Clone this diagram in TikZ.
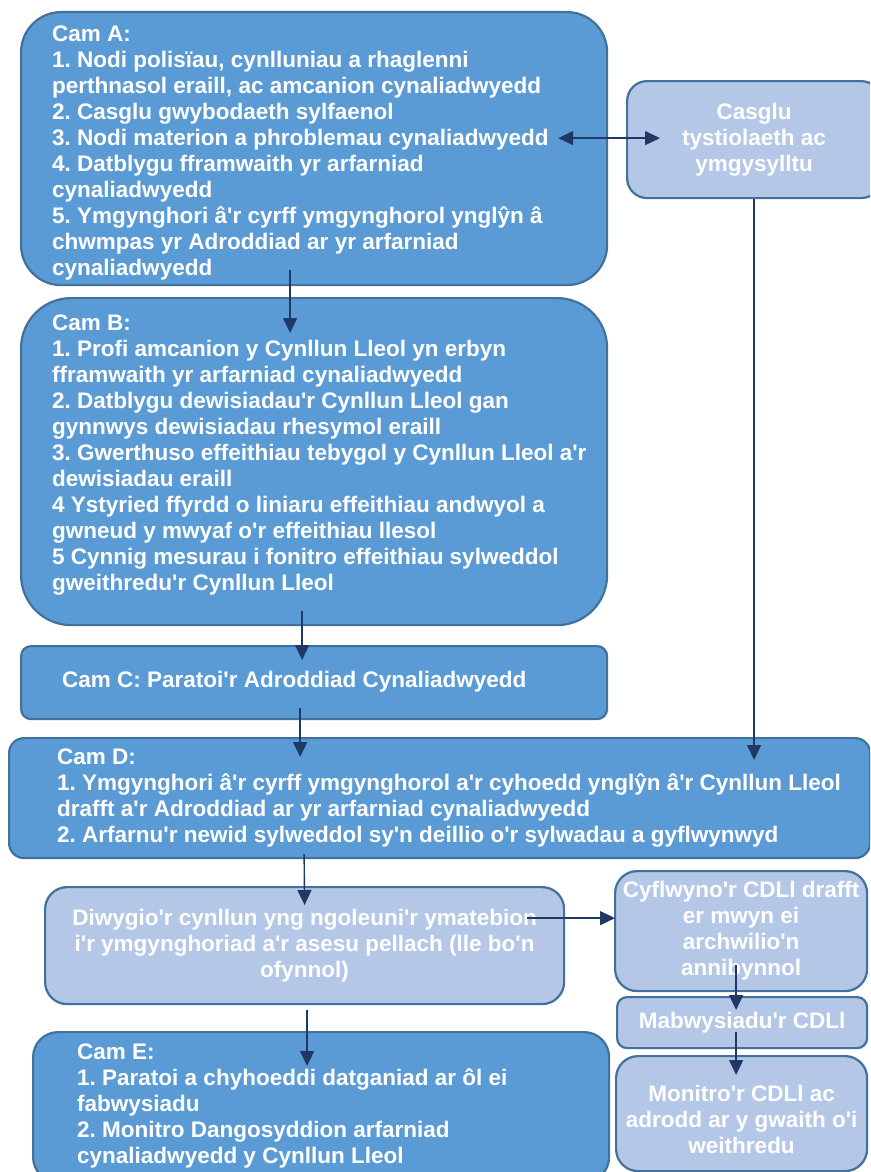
\documentclass[tikz,border=0pt]{standalone}
\usepackage{fontspec}
\setmainfont{Liberation Sans}[Ligatures=TeXOff]
\usetikzlibrary{arrows.meta,calc}
\definecolor{dfill}{HTML}{5B9BD5}
\definecolor{lfill}{HTML}{B4C7E7}
\definecolor{bord}{HTML}{41719C}
\definecolor{arrc}{HTML}{203864}
\frenchspacing
\begin{document}
\begin{tikzpicture}[x=1pt,y=1pt,
 box/.style={draw=bord, line width=2.2pt, inner sep=0pt, anchor=north west},
 dbox/.style={box, fill=dfill},
 lbox/.style={box, fill=lfill, text=white, align=center, font=\bfseries\fontsize{22.5}{26}\selectfont},
 txt/.style={anchor=west, inner sep=0pt, align=left, text=white, font=\bfseries\fontsize{22.5}{26}\selectfont},
 arr/.style={draw=arrc, line width=1.4pt, -{Triangle[length=15pt,width=14pt]}},
 arrboth/.style={draw=arrc, line width=1.4pt, {Triangle[length=15pt,width=14pt]}-{Triangle[length=15pt,width=14pt]}},
]
\useasboundingbox (0,0) rectangle (870,-1172);
\clip (0,0) rectangle (870,-1172);
\fill[white] (0,0) rectangle (870,-1172);

% boxes
\node[dbox, minimum width=586pt, minimum height=273pt, rounded corners=40pt] (A) at (20,-11) {};
\node[lbox, minimum width=254pt, minimum height=117pt, rounded corners=20pt] (Cas) at (626,-80) {Casglu\\tystiolaeth ac\\ymgysylltu};
\node[dbox, minimum width=586pt, minimum height=327pt, rounded corners=50pt] (B) at (20,-297) {};
\node[dbox, minimum width=586pt, minimum height=73pt, rounded corners=10pt] (C) at (20,-645) {};
\node[dbox, minimum width=861pt, minimum height=120pt, rounded corners=15pt] (D) at (8,-737) {};
\node[lbox, minimum width=519pt, minimum height=117pt, rounded corners=22pt] (Diw) at (44,-886) {Diwygio'r cynllun yng ngoleuni'r ymatebion\\i'r ymgynghoriad a'r asesu pellach (lle bo'n\\ofynnol)};
\node[lbox, minimum width=252pt, minimum height=120pt, rounded corners=22pt] (Cyf) at (614,-870) {Cyflwyno'r CDLl drafft\\er mwyn ei\\archwilio'n\\annibynnol};
\node[lbox, minimum width=250pt, minimum height=51pt, rounded corners=10pt] (Mab) at (616,-996) {Mabwysiadu'r CDLl};
\node[lbox, minimum width=251pt, minimum height=115pt, rounded corners=22pt] (Mon) at (615,-1055) {};
\node[dbox, minimum width=576pt, minimum height=150pt, rounded corners=25pt] (E) at (32,-1031) {};

% texts
\node[txt] (At) at ($(A.west)+(32,-4.5)$) {Cam A:\\1. Nodi polisïau, cynlluniau a rhaglenni\\perthnasol eraill, ac amcanion cynaliadwyedd\\2. Casglu gwybodaeth sylfaenol\\3. Nodi materion a phroblemau cynaliadwyedd\\4. Datblygu fframwaith yr arfarniad\\cynaliadwyedd\\5. Ymgynghori â'r cyrff ymgynghorol ynglŷn â\\chwmpas yr Adroddiad ar yr arfarniad\\cynaliadwyedd};
\node[txt] (Bt) at ($(B.west)+(32,6.5)$) {Cam B:\\1. Profi amcanion y Cynllun Lleol yn erbyn\\fframwaith yr arfarniad cynaliadwyedd\\2. Datblygu dewisiadau'r Cynllun Lleol gan\\gynnwys dewisiadau rhesymol eraill\\3. Gwerthuso effeithiau tebygol y Cynllun Lleol a'r\\dewisiadau eraill\\4 Ystyried ffyrdd o liniaru effeithiau andwyol a\\gwneud y mwyaf o'r effeithiau llesol\\5 Cynnig mesurau i fonitro effeithiau sylweddol\\gweithredu'r Cynllun Lleol};
\node[txt] (Ct) at ($(C.west)+(42,1)$) {Cam C: Paratoi'r Adroddiad Cynaliadwyedd};
\node[txt] (Dt) at ($(D.west)+(49,0)$) {Cam D:\\1. Ymgynghori â'r cyrff ymgynghorol a'r cyhoedd ynglŷn â'r Cynllun Lleol\\drafft a'r Adroddiad ar yr arfarniad cynaliadwyedd\\2. Arfarnu'r newid sylweddol sy'n deillio o'r sylwadau a gyflwynwyd};
\node[txt, anchor=center, align=center] (Mt) at ($(Mon.center)+(0,-6)$) {Monitro'r CDLl ac\\adrodd ar y gwaith o'i\\weithredu};
\node[txt] (Et) at ($(E.north west)+(45,-75)$) {Cam E:\\1. Paratoi a chyhoeddi datganiad ar ôl ei\\fabwysiadu\\2. Monitro Dangosyddion arfarniad\\cynaliadwyedd y Cynllun Lleol};

% connectors
\draw[arrboth] ($(A.east)+(-50,10.5)$) -- ($(Cas.west)+(34,1.5)$);
\draw[arr] ($(A.south)+(-24,16)$) -- ($(B.north)+(-24,-36)$);
\draw[arr] ($(B.south)+(-12,15)$) -- ($(C.north)+(-12,-15)$);
\draw[arr] ($(C.south)+(-14,12)$) -- ($(D.north)+(-139.5,-20)$);
\draw[arr] (Cas.south) -- ($(Cas.south |- D.north)+(0,-23)$);
\draw[arr] ($(D.south)+(-135.5,5)$) -- ($(Diw.north)+(0,-19)$);
\draw[arr] ($(Diw.east)+(-38,27.5)$) -- ($(Cyf.west)+(1,13)$);
\draw[arr] ($(Cyf.south)+(-5,27)$) -- ($(Mab.north)+(-6,-14)$);
\draw[arr] ($(Mab.south)+(-6,17)$) -- ($(Mon.north)+(-5.5,-20)$);
\draw[arr] ($(Diw.south)+(2.5,-5)$) -- ($(E.north)+(-14,-35)$);
\end{tikzpicture}
\end{document}
